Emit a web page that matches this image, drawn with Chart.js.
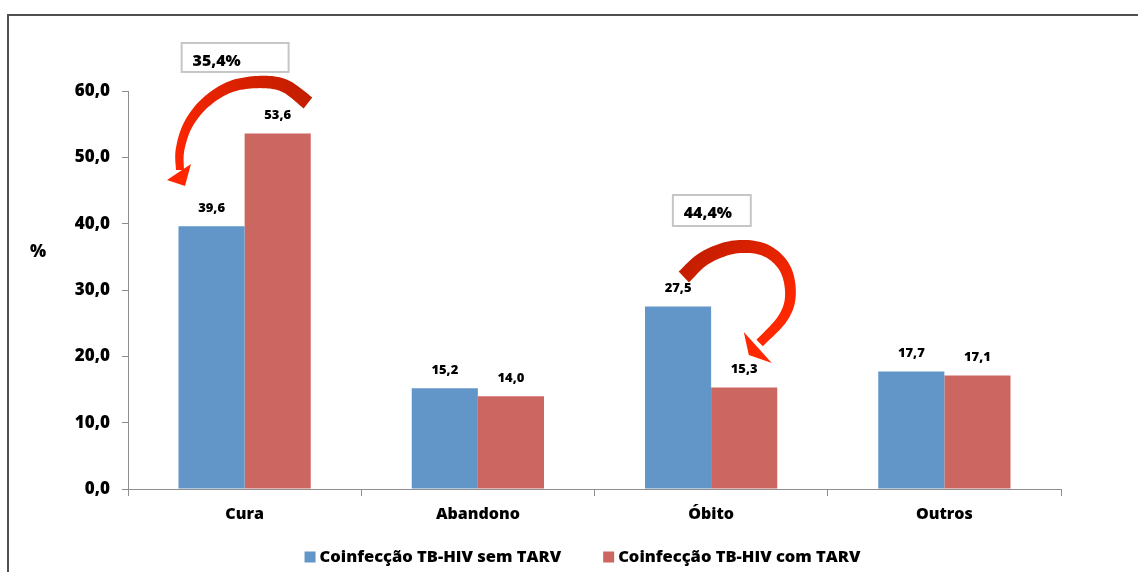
<!DOCTYPE html>
<html><head><meta charset="utf-8">
<script src="https://cdn.jsdelivr.net/npm/chart.js@4/dist/chart.umd.min.js"></script>
<style>html,body{margin:0;padding:0;background:#fff}#wrap{width:1138px;height:572px;position:relative}</style>
</head><body><div id="wrap"><canvas id="c" width="1138" height="572"></canvas></div>
<script>
const categories = ['Cura', 'Abandono', 'Óbito', 'Outros'];
const semTarv = [39.6, 15.2, 27.5, 17.7];
const comTarv = [53.6, 14.0, 15.3, 17.1];
const seriesNames = ['Coinfecção TB-HIV sem TARV', 'Coinfecção TB-HIV com TARV'];
const yTickValues = [0, 10, 20, 30, 40, 50, 60];
const yAxisTitle = '%';
const changeLabels = ['35,4%', '44,4%'];
const changeCategories = [0, 2];

const BLUE = '#6296C9';
const RED = '#CC6660';
const FONT = '"Open Sans", Lato, "Liberation Sans", sans-serif';
const W = '800';

function fmt(v) { return v.toFixed(1).replace('.', ','); }

// Annotation geometry in data space: [category offset, value]
const arrowDefs = [
  {
    cat: changeCategories[0],
    pts: [[0.2715,58.19],[0.173,60.76],[0.0658,61.36],[-0.0628,60.61],[-0.170,58.19],[-0.2428,54.88],[-0.2771,51.11],[-0.2771,48.09]],
    head: [[-0.3328,46.6],[-0.2557,45.68],[-0.2300,49.0]],
    w0: 14, w1: 8, c0: '#C41E00', c1: '#FF2600'
  },
  {
    cat: changeCategories[1],
    pts: [[-0.117,31.96],[-0.027,34.83],[0.1016,36.48],[0.230,36.03],[0.316,33.32],[0.340,29.20],[0.307,25.73],[0.208,22.01]],
    head: [[0.140,23.67],[0.1616,20.2],[0.260,19.0]],
    w0: 15, w1: 9, c0: '#C81E00', c1: '#FF2800'
  }
];
const boxDefs = [
  { cat: changeCategories[0], text: changeLabels[0], l: -0.27, r: 0.1886, t: 67.24, b: 62.87, tx: -0.12, ty: 64.4 },
  { cat: changeCategories[1], text: changeLabels[1], l: -0.164, r: 0.170, t: 44.32, b: 39.65, tx: -0.014, ty: 41.6 }
];

function catmull(pts, steps) {
  const out = [];
  for (let i = 0; i < pts.length - 1; i++) {
    const p0 = pts[i - 1] || pts[i], p1 = pts[i], p2 = pts[i + 1], p3 = pts[i + 2] || pts[i + 1];
    for (let s = 0; s < steps; s++) {
      const t = s / steps, t2 = t * t, t3 = t2 * t;
      const f = (a, b, c, d) => 0.5 * ((2 * b) + (-a + c) * t + (2 * a - 5 * b + 4 * c - d) * t2 + (-a + 3 * b - 3 * c + d) * t3);
      out.push([f(p0[0], p1[0], p2[0], p3[0]), f(p0[1], p1[1], p2[1], p3[1])]);
    }
  }
  out.push(pts[pts.length - 1]);
  return out;
}

function drawArrow(ctx, pts, head, w0, w1, c0, c1) {
  const s = catmull(pts, 12);
  const L = [0];
  for (let i = 1; i < s.length; i++) L.push(L[i - 1] + Math.hypot(s[i][0] - s[i - 1][0], s[i][1] - s[i - 1][1]));
  const total = L[L.length - 1];
  const left = [], right = [];
  for (let i = 0; i < s.length; i++) {
    const a = s[Math.max(0, i - 1)], b = s[Math.min(s.length - 1, i + 1)];
    let tx = b[0] - a[0], ty = b[1] - a[1];
    const len = Math.hypot(tx, ty) || 1; tx /= len; ty /= len;
    const w = (w0 + (w1 - w0) * (L[i] / total)) / 2;
    left.push([s[i][0] - ty * w, s[i][1] + tx * w]);
    right.push([s[i][0] + ty * w, s[i][1] - tx * w]);
  }
  const g = ctx.createLinearGradient(pts[0][0], pts[0][1], pts[pts.length - 1][0], pts[pts.length - 1][1]);
  g.addColorStop(0, c0); g.addColorStop(1, c1);
  ctx.fillStyle = g;
  ctx.beginPath();
  left.forEach((p, i) => i ? ctx.lineTo(p[0], p[1]) : ctx.moveTo(p[0], p[1]));
  for (let i = right.length - 1; i >= 0; i--) ctx.lineTo(right[i][0], right[i][1]);
  ctx.closePath(); ctx.fill();
  ctx.fillStyle = c1;
  ctx.beginPath();
  ctx.moveTo(head[0][0], head[0][1]); ctx.lineTo(head[1][0], head[1][1]); ctx.lineTo(head[2][0], head[2][1]);
  ctx.closePath(); ctx.fill();
}

const decorPlugin = {
  id: 'decor',
  beforeDraw(chart) {
    const ctx = chart.ctx;
    ctx.save();
    ctx.fillStyle = '#fff'; ctx.fillRect(0, 0, chart.width, chart.height);
    ctx.strokeStyle = '#505050'; ctx.lineWidth = 2;
    ctx.strokeRect(8, 15, chart.width + 50, chart.height + 50);
    ctx.restore();
  },
  afterDatasetsDraw(chart) {
    const ctx = chart.ctx;
    ctx.save();
    ctx.fillStyle = '#000';
    ctx.font = W + ' 13px ' + FONT;
    ctx.textAlign = 'center'; ctx.textBaseline = 'middle';
    chart.data.datasets.forEach((ds, di) => {
      chart.getDatasetMeta(di).data.forEach((el, i) => {
        ctx.fillText(fmt(ds.data[i]), el.x, el.y - 18);
      });
    });
    ctx.restore();
  },
  afterDraw(chart) {
    const ctx = chart.ctx;
    const xs = chart.scales.x, ys = chart.scales.y;
    const catW = xs.getPixelForValue(1) - xs.getPixelForValue(0);
    const P = (cat, p) => [xs.getPixelForValue(cat) + p[0] * catW, ys.getPixelForValue(p[1])];
    ctx.save();
    // y axis title
    ctx.fillStyle = '#000';
    ctx.font = W + ' 17px ' + FONT;
    ctx.textAlign = 'center'; ctx.textBaseline = 'middle';
    ctx.fillText(yAxisTitle, 38, ys.getPixelForValue(35.7));
    // boxes
    boxDefs.forEach(b => {
      const tl = P(b.cat, [b.l, b.t]), br = P(b.cat, [b.r, b.b]);
      ctx.strokeStyle = '#C6C6C6'; ctx.lineWidth = 2;
      ctx.strokeRect(tl[0], tl[1], br[0] - tl[0], br[1] - tl[1]);
      const tp = P(b.cat, [b.tx, b.ty]);
      ctx.fillStyle = '#000'; ctx.font = W + ' 16px ' + FONT;
      ctx.fillText(b.text, tp[0], tp[1]);
    });
    // arrows
    arrowDefs.forEach(a => {
      drawArrow(ctx, a.pts.map(p => P(a.cat, p)), a.head.map(p => P(a.cat, p)), a.w0, a.w1, a.c0, a.c1);
    });
    // legend
    ctx.font = W + ' 16.5px ' + FONT;
    ctx.textAlign = 'left';
    const colors = [BLUE, RED];
    const widths = seriesNames.map(n => ctx.measureText(n).width);
    const box = 11, gapT = 4, gapI = 42;
    const totalW = widths.reduce((s, w) => s + box + gapT + w, 0) + gapI;
    let x = 582.5 - totalW / 2;
    const ly = 557;
    seriesNames.forEach((n, i) => {
      ctx.fillStyle = colors[i];
      ctx.fillRect(x, ly - box / 2, box, box);
      ctx.fillStyle = '#000';
      ctx.fillText(n, x + box + gapT, ly);
      x += box + gapT + widths[i] + gapI;
    });
    ctx.restore();
  }
};

new Chart(document.getElementById('c'), {
  type: 'bar',
  data: {
    labels: categories,
    datasets: [
      { label: seriesNames[0], data: semTarv, backgroundColor: BLUE, borderWidth: 0 },
      { label: seriesNames[1], data: comTarv, backgroundColor: RED, borderWidth: 0 }
    ]
  },
  options: {
    responsive: false,
    animation: false,
    devicePixelRatio: 1,
    categoryPercentage: 0.567,
    barPercentage: 1.0,
    layout: { padding: { left: 0, right: 77, top: 91, bottom: 0 } },
    plugins: { legend: { display: false }, tooltip: { enabled: false }, title: { display: false } },
    scales: {
      x: {
        grid: { display: true, drawOnChartArea: false, drawTicks: true, tickLength: 7, color: '#8E8E8E', offset: true },
        border: { display: true, color: '#8E8E8E', width: 1 },
        ticks: { color: '#000', font: { family: FONT, size: 16, weight: W }, padding: 9 },
        afterFit(s) { s.height = 83; }
      },
      y: {
        min: 0, max: 60,
        afterBuildTicks(s) { s.ticks = yTickValues.map(v => ({ value: v })); },
        grid: { display: true, drawOnChartArea: false, drawTicks: true, tickLength: 6, color: '#8E8E8E' },
        border: { display: true, color: '#8E8E8E', width: 1 },
        ticks: { color: '#000', font: { family: FONT, size: 17, weight: W }, padding: 12, callback: v => fmt(v) },
        afterFit(s) { s.width = 128; }
      }
    }
  },
  plugins: [decorPlugin]
});
</script>
</body></html>
